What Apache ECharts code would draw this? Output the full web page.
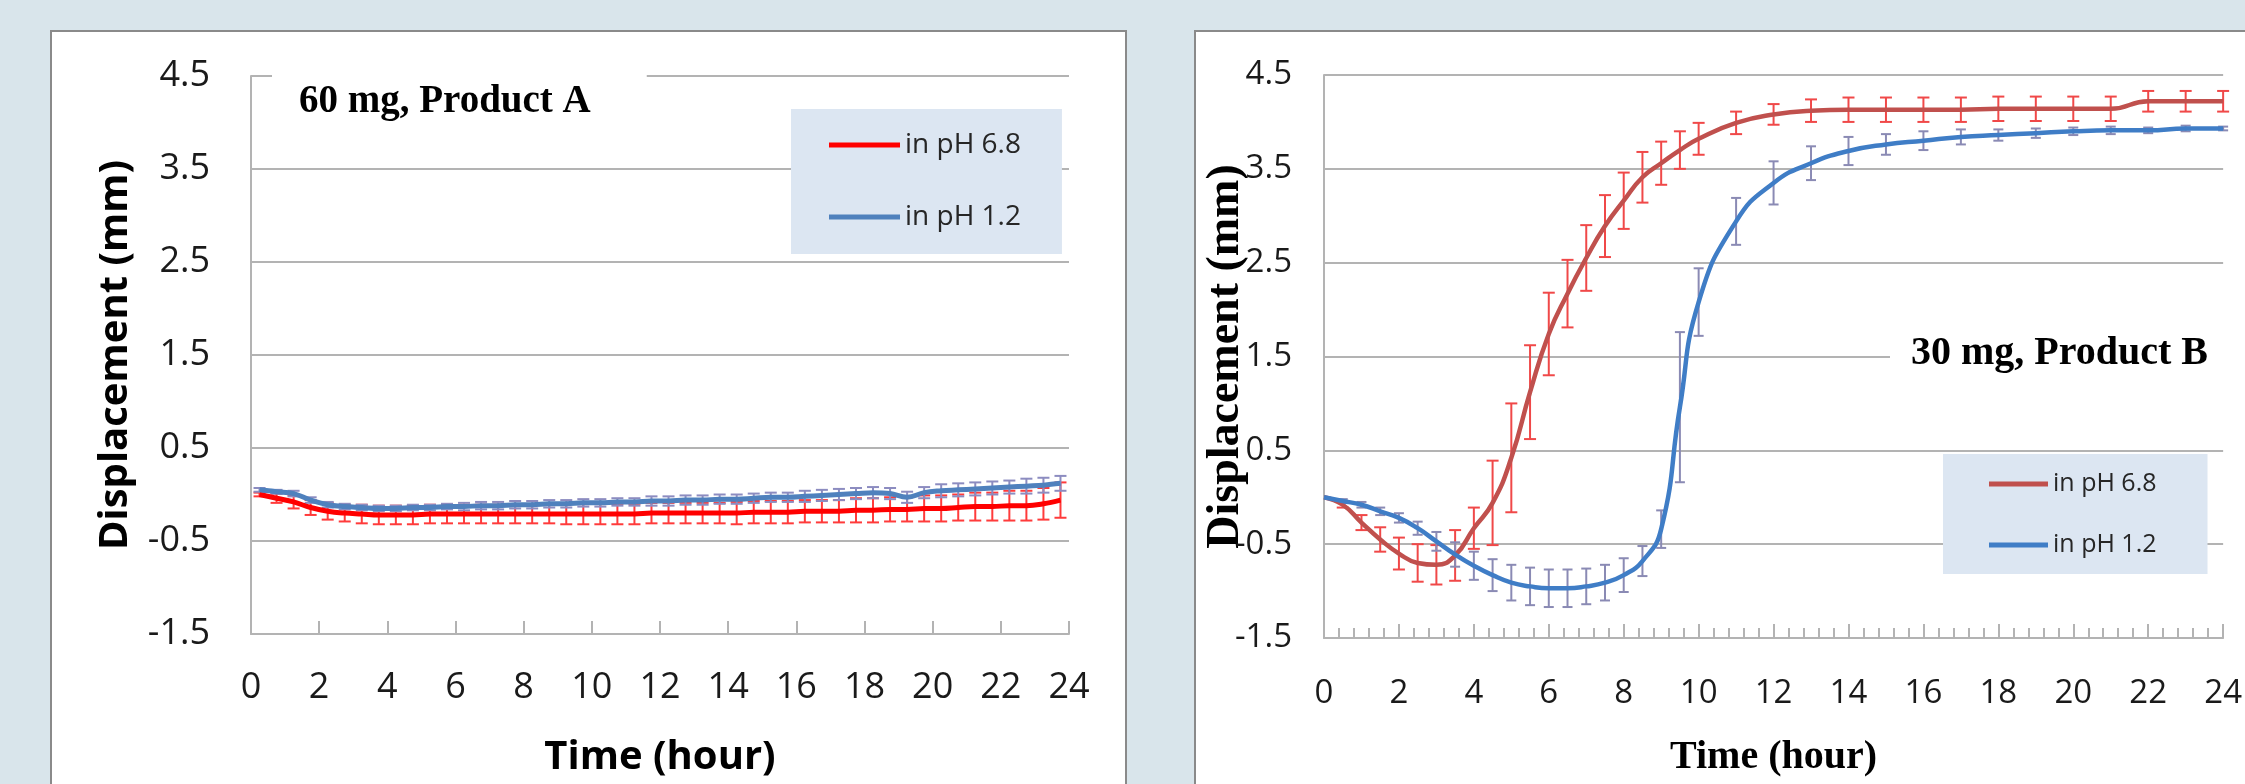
<!DOCTYPE html>
<html><head><meta charset="utf-8">
<script src="https://cdn.jsdelivr.net/npm/echarts@6/dist/echarts.min.js"></script>
<style>
html,body{margin:0;padding:0;background:#d9e5eb;overflow:hidden;}
#wrap{position:relative;width:2245px;height:784px;background:#d9e5eb;}
.panel{position:absolute;background:#fff;border:2px solid #8a8a8a;box-sizing:border-box;}
#c{position:absolute;left:0;top:0;width:2245px;height:784px;}
</style>
</head><body>
<div id="wrap">
<div class="panel" style="left:50px;top:30px;width:1077px;height:800px;"></div>
<div class="panel" style="left:1194px;top:30px;width:1100px;height:800px;"></div>
<div id="c"></div>
</div>
<script>
// ---------- Product A (60 mg) ----------
const tA = [0.25,0.75,1.25,1.75,2.25,2.75,3.25,3.75,
            4.25,4.75,5.25,5.75,6.25,6.75,7.25,7.75,
            8.25,8.75,9.25,9.75,10.25,10.75,11.25,11.75,
            12.25,12.75,13.25,13.75,14.25,14.75,15.25,15.75,
            16.25,16.75,17.25,17.75,18.25,18.75,19.25,19.75,
            20.25,20.75,21.25,21.75,22.25,22.75,23.25,23.75];
const aRed = [0.00,-0.04,-0.08,-0.14,-0.18,-0.20,-0.21,-0.22,
              -0.22,-0.22,-0.21,-0.21,-0.21,-0.21,-0.21,-0.21,
              -0.21,-0.21,-0.21,-0.21,-0.21,-0.21,-0.21,-0.20,
              -0.20,-0.20,-0.20,-0.20,-0.20,-0.19,-0.19,-0.19,
              -0.18,-0.18,-0.18,-0.17,-0.17,-0.16,-0.16,-0.15,
              -0.15,-0.14,-0.13,-0.13,-0.12,-0.12,-0.10,-0.06];
const aRedErr = [0.02,0.05,0.07,0.08,0.09,0.09,0.10,0.10,
                 0.10,0.10,0.10,0.10,0.10,0.10,0.10,0.10,
                 0.10,0.10,0.11,0.11,0.11,0.11,0.11,0.11,
                 0.11,0.11,0.11,0.11,0.12,0.12,0.12,0.12,
                 0.12,0.12,0.12,0.13,0.13,0.13,0.13,0.14,
                 0.14,0.14,0.15,0.15,0.16,0.16,0.17,0.19];
const aBlue = [0.05,0.03,0.01,-0.06,-0.11,-0.13,-0.14,-0.15,
               -0.15,-0.14,-0.14,-0.13,-0.13,-0.12,-0.12,-0.11,
               -0.11,-0.10,-0.10,-0.09,-0.09,-0.08,-0.08,-0.07,
               -0.07,-0.06,-0.06,-0.05,-0.05,-0.04,-0.03,-0.03,
               -0.02,-0.01,0.00,0.01,0.02,0.01,-0.03,0.02,
               0.04,0.05,0.06,0.07,0.08,0.09,0.10,0.12];
const aBlueErr = [0.02,0.02,0.03,0.03,0.03,0.03,0.03,0.03,
                  0.03,0.03,0.03,0.03,0.04,0.04,0.04,0.04,
                  0.04,0.04,0.04,0.04,0.04,0.04,0.04,0.05,
                  0.05,0.05,0.05,0.05,0.05,0.05,0.05,0.05,
                  0.06,0.06,0.06,0.06,0.06,0.06,0.06,0.06,
                  0.07,0.07,0.07,0.07,0.07,0.08,0.08,0.08];

// ---------- Product B (30 mg) ----------
const tB = [0,0.5,1,1.5,2,2.5,3,3.5,4,4.5,5,5.5,6,6.5,7,7.5,8,8.5,9,9.5,10,
            11,12,13,14,15,16,17,18,19,20,21,22,23,24];
const bRed = [0.00,-0.08,-0.27,-0.45,-0.60,-0.70,-0.72,-0.62,-0.33,-0.06,0.42,1.12,1.74,2.17,2.55,2.89,3.16,3.41,3.56,3.70,3.82,
              3.99,4.08,4.12,4.13,4.13,4.13,4.13,4.14,4.14,4.14,4.14,4.22,4.22,4.22];
const bRedErr = [0,0.03,0.08,0.13,0.17,0.20,0.21,0.27,0.22,0.45,0.58,0.50,0.44,0.36,0.35,0.33,0.30,0.27,0.23,0.20,0.17,
                 0.12,0.11,0.12,0.13,0.13,0.13,0.13,0.13,0.13,0.13,0.13,0.11,0.11,0.11];
const bBlue = [0.00,-0.04,-0.08,-0.15,-0.22,-0.33,-0.47,-0.61,-0.73,-0.83,-0.91,-0.95,-0.97,-0.97,-0.95,-0.91,-0.83,-0.68,-0.34,0.96,2.08,
               2.94,3.35,3.56,3.69,3.76,3.80,3.84,3.86,3.88,3.90,3.91,3.91,3.93,3.93];
const bBlueErr = [0,0.02,0.03,0.04,0.05,0.07,0.10,0.13,0.15,0.17,0.19,0.20,0.20,0.20,0.19,0.19,0.18,0.16,0.20,0.80,0.36,
                  0.25,0.23,0.18,0.15,0.11,0.10,0.08,0.06,0.05,0.04,0.04,0.03,0.03,0.02];

const seriesNames = ['in pH 6.8','in pH 1.2'];
const titles = ['60 mg, Product A','30 mg, Product B'];

const SANS = "'Open Sans',sans-serif";
const SERIF = "'Liberation Serif','Times New Roman',serif";
const GRID = '#b3b3b3';

function errRender(color, cap){
  return function(params, api){
    const x = api.value(0), y = api.value(1), e = api.value(2);
    if (!e) return {type:'group', children:[]};
    const a = api.coord([x, y + e]), b = api.coord([x, y - e]);
    const st = {stroke: color, lineWidth: 2};
    return {type:'group', children:[
      {type:'line', shape:{x1:a[0], y1:a[1], x2:b[0], y2:b[1]}, style:st},
      {type:'line', shape:{x1:a[0]-cap, y1:a[1], x2:a[0]+cap, y2:a[1]}, style:st},
      {type:'line', shape:{x1:b[0]-cap, y1:b[1], x2:b[0]+cap, y2:b[1]}, style:st}
    ]};
  };
}
function zip2(t, v){ return t.map((x,i)=>[x, v[i]]); }
function zip3(t, v, e){ return t.map((x,i)=>[x, v[i], e[i]]); }

const chart = echarts.init(document.getElementById('c'));
chart.setOption({
  backgroundColor: 'transparent',
  animation: false,
  title: [
    {text: titles[0], left: 272, top: 73, padding: [7, 56, 6, 27], backgroundColor: '#fff',
     textStyle: {fontFamily: SERIF, fontWeight: 'bold', fontSize: 39, color: '#000', lineHeight: 44}},
    {text: titles[1], left: 1890, top: 328, padding: [4, 22, 4, 21], backgroundColor: '#fff',
     textStyle: {fontFamily: SERIF, fontWeight: 'bold', fontSize: 40, color: '#000', lineHeight: 44}}
  ],
  legend: [
    {left: 791, top: 109, orient: 'vertical', padding: [21, 41, 22, 38], itemGap: 42,
     itemWidth: 71, itemHeight: 5, icon: 'rect', backgroundColor: '#dce6f2', selectedMode: false,
     textStyle: {fontFamily: SANS, fontSize: 28, color: '#262626', lineHeight: 30},
     data: [{name: seriesNames[0], itemStyle: {color: '#ff0000'}},
            {name: seriesNames[1], itemStyle: {color: '#4f81bd'}}]},
    {left: 1943, top: 454, orient: 'vertical', padding: [16, 51, 15, 46], itemGap: 33,
     itemWidth: 59, itemHeight: 5, icon: 'rect', backgroundColor: '#dce6f2', selectedMode: false,
     textStyle: {fontFamily: SANS, fontSize: 25, color: '#262626', lineHeight: 28},
     data: [{name: seriesNames[0], itemStyle: {color: '#c0504d'}},
            {name: seriesNames[1], itemStyle: {color: '#3f7dc6'}}]}
  ],
  grid: [
    {left: 251, top: 76, width: 818, height: 558},
    {left: 1324, top: 75, width: 903, height: 563}
  ],
  xAxis: [
    {type: 'value', gridIndex: 0, min: 0, max: 24, interval: 2,
     axisLine: {onZero: false, lineStyle: {color: GRID, width: 2}},
     axisTick: {inside: true, length: 13, lineStyle: {color: GRID, width: 2}},
     axisLabel: {margin: 36, fontSize: 36, color: '#1a1a1a', fontFamily: SANS},
     splitLine: {show: false},
     name: 'Time (hour)', nameLocation: 'middle', nameGap: 104, nameMoveOverlap: false,
     nameTextStyle: {fontFamily: SANS, fontWeight: 'bold', fontSize: 40, color: '#000'}},
    {type: 'value', gridIndex: 1, min: 0, max: 24, interval: 2,
     axisLine: {onZero: false, lineStyle: {color: GRID, width: 2}},
     axisTick: {inside: true, length: 14, lineStyle: {color: GRID, width: 2}},
     minorTick: {show: true, splitNumber: 5, length: 10, lineStyle: {color: GRID, width: 2}},
     axisLabel: {margin: 39, fontSize: 33, color: '#1a1a1a', fontFamily: SANS},
     splitLine: {show: false},
     name: 'Time (hour)', nameLocation: 'middle', nameGap: 100, nameMoveOverlap: false,
     nameTextStyle: {fontFamily: SERIF, fontWeight: 'bold', fontSize: 40, color: '#000'}}
  ],
  yAxis: [
    {type: 'value', gridIndex: 0, min: -1.5, max: 4.5, interval: 1,
     axisLine: {show: true, onZero: false, lineStyle: {color: GRID, width: 2}},
     axisTick: {show: false},
     axisLabel: {margin: 41, fontSize: 36, color: '#1a1a1a', fontFamily: SANS, formatter: v => v.toFixed(1)},
     splitLine: {lineStyle: {color: GRID, width: 2}},
     name: 'Displacement (mm)', nameLocation: 'middle', nameGap: 115, nameMoveOverlap: false,
     nameTextStyle: {fontFamily: SANS, fontWeight: 'bold', fontSize: 40, color: '#000'}},
    {type: 'value', gridIndex: 1, min: -1.5, max: 4.5, interval: 1,
     axisLine: {show: true, onZero: false, lineStyle: {color: GRID, width: 2}},
     axisTick: {show: false},
     axisLabel: {margin: 32, fontSize: 33, color: '#1a1a1a', fontFamily: SANS, formatter: v => v.toFixed(1)},
     splitLine: {lineStyle: {color: GRID, width: 2}},
     name: 'Displacement (mm)', nameLocation: 'middle', nameGap: 75, nameMoveOverlap: false,
     nameTextStyle: {fontFamily: SERIF, fontWeight: 'bold', fontSize: 46, color: '#000'}}
  ],
  series: [
    {type: 'custom', xAxisIndex: 0, yAxisIndex: 0, z: 2, renderItem: errRender('#ff3b3b', 6),
     encode: {x: 0, y: 1}, data: zip3(tA, aRed, aRedErr), silent: true},
    {type: 'custom', xAxisIndex: 0, yAxisIndex: 0, z: 2, renderItem: errRender('#8c8cc0', 6),
     encode: {x: 0, y: 1}, data: zip3(tA, aBlue, aBlueErr), silent: true},
    {type: 'line', name: seriesNames[0], xAxisIndex: 0, yAxisIndex: 0, z: 3, data: zip2(tA, aRed),
     showSymbol: false, smooth: 0.4, color: '#ff0000', lineStyle: {width: 5, color: '#ff0000'}},
    {type: 'line', name: seriesNames[1], xAxisIndex: 0, yAxisIndex: 0, z: 4, data: zip2(tA, aBlue),
     showSymbol: false, smooth: 0.4, color: '#4f81bd', lineStyle: {width: 5, color: '#4f81bd'}},

    {type: 'custom', xAxisIndex: 1, yAxisIndex: 1, z: 2, renderItem: errRender('#f04848', 6),
     encode: {x: 0, y: 1}, data: zip3(tB, bRed, bRedErr), silent: true},
    {type: 'custom', xAxisIndex: 1, yAxisIndex: 1, z: 2, renderItem: errRender('#8a8ab4', 5),
     encode: {x: 0, y: 1}, data: zip3(tB, bBlue, bBlueErr), silent: true},
    {type: 'line', name: seriesNames[0], xAxisIndex: 1, yAxisIndex: 1, z: 3, data: zip2(tB, bRed),
     showSymbol: false, smooth: 0.5, color: '#c0504d', lineStyle: {width: 4.5, color: '#c0504d'}},
    {type: 'line', name: seriesNames[1], xAxisIndex: 1, yAxisIndex: 1, z: 4, data: zip2(tB, bBlue),
     showSymbol: false, smooth: 0.5, color: '#3f7dc6', lineStyle: {width: 4.5, color: '#3f7dc6'}}
  ]
});
</script>
</body></html>
